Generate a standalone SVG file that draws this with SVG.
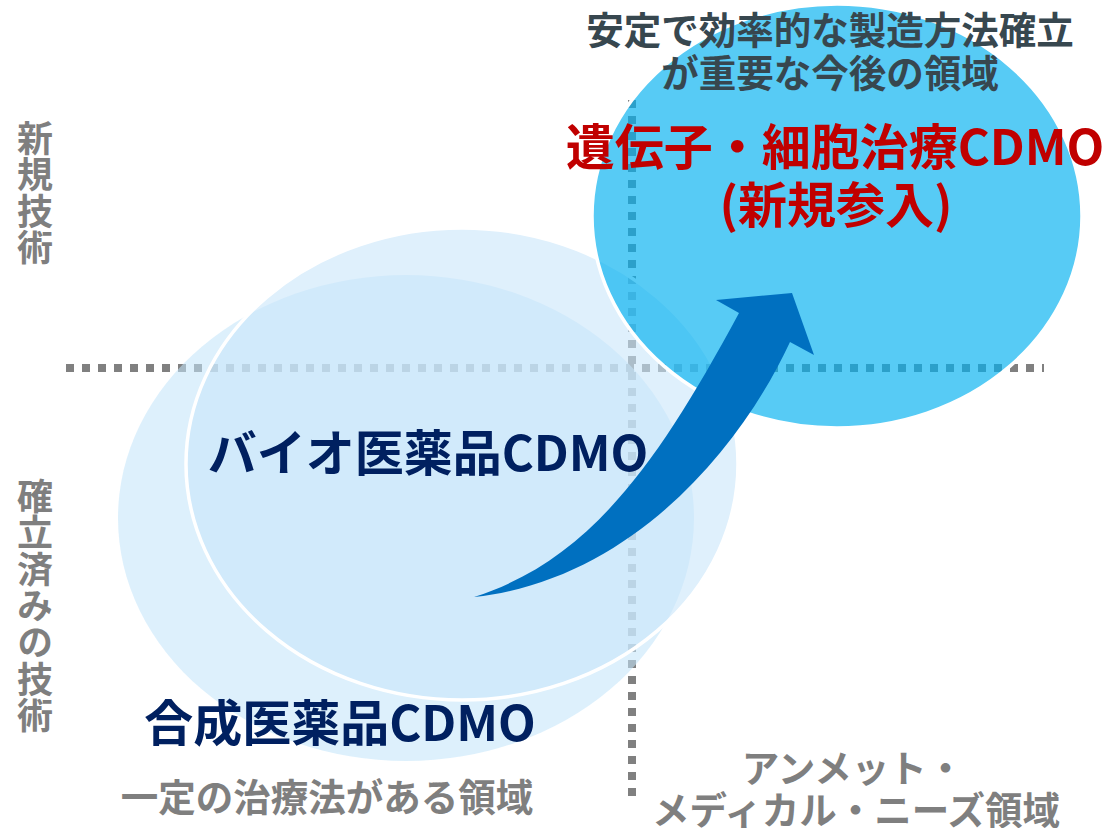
<svg xmlns="http://www.w3.org/2000/svg" width="1105" height="828" viewBox="0 0 1105 828">
<style>
text{font-family:"Noto Sans CJK JP","Noto Sans CJK SC",sans-serif;font-weight:bold;text-anchor:middle}
.axis{fill:none;stroke:#808080;stroke-width:8;stroke-dasharray:8 8}
.gray{fill:#7F7F7F;font-size:37.5px}
.side{fill:#7F7F7F;font-size:36px;writing-mode:vertical-rl;text-anchor:start;letter-spacing:0.6px}
.navy{fill:#002060}
.red{fill:#C00000;font-size:49px}
.slate{fill:#37474F;font-size:37.5px}
</style>
<rect width="1105" height="828" fill="#FFFFFF"/>
<g id="axes">
<line class="axis" x1="66" y1="368" x2="1044" y2="368"/>
<line class="axis" x1="632" y1="100" x2="632" y2="796"/>
</g>
<g id="node-synthetic">
<ellipse cx="406" cy="518" rx="288" ry="243" fill="#C3E4F9" fill-opacity="0.57"/>
<text class="navy" x="340" y="741" font-size="49">合成医薬品CDMO</text>
<text class="gray" x="327" y="811">一定の治療法がある領域</text>
</g>
<g id="node-bio">
<ellipse cx="462" cy="464" rx="276" ry="236" fill="#C9E6FA" fill-opacity="0.6" stroke="#FFFFFF" stroke-width="3.5"/>
</g>
<g id="node-gene">
<ellipse cx="837" cy="216" rx="245" ry="212" fill="#00B0F0" fill-opacity="0.66" stroke="#FFFFFF" stroke-width="3.5"/>
</g>
<g id="connectors">
<path d="M474,597 C590,560 658,463 739,313 L716,300 L792,293 L814,355 L790,342 C740,450 630,580 474,597 Z" fill="#0070C0"/>
</g>
<g id="labels">
<text class="navy" x="428" y="471" font-size="49">バイオ医薬品CDMO</text>
<text class="slate" x="830" y="44">安定で効率的な製造方法確立</text>
<text class="slate" x="830" y="87">が重要な今後の領域</text>
<text class="red" x="835" y="165">遺伝子・細胞治療CDMO</text>
<text class="red" x="836" y="223">(新規参入)</text>
<text class="gray" x="853" y="782">アンメット・</text>
<text class="gray" x="856" y="824" font-size="38">メディカル・ニーズ領域</text>
</g>
<g id="axis-label-new">
<text class="side" x="35" y="120">新規技術</text>
</g>
<g id="axis-label-established">
<text class="side" x="35" y="478">確立済みの技術</text>
</g>
</svg>
